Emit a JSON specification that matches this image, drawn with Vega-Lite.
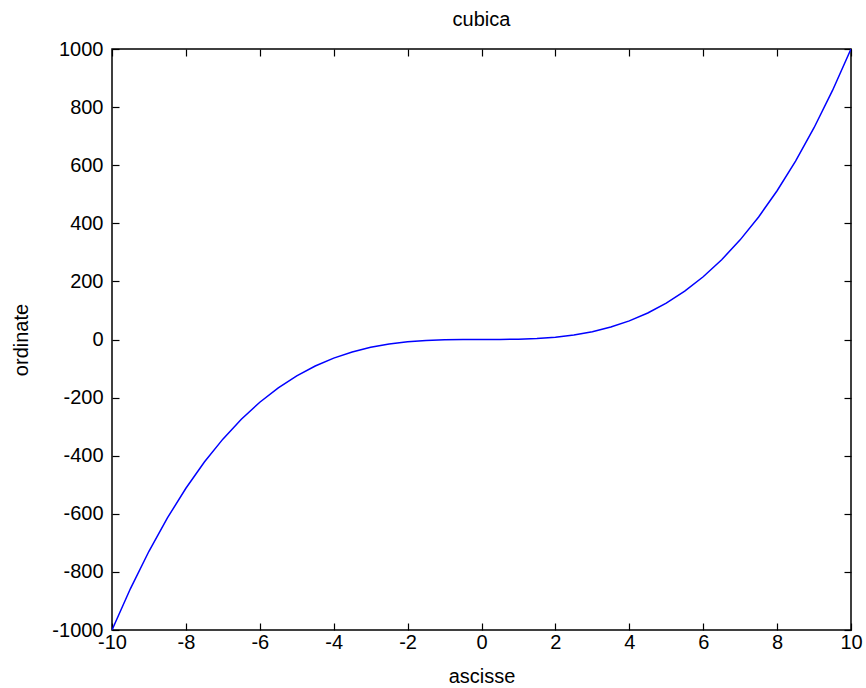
{
  "$schema": "https://vega.github.io/schema/vega-lite/v6.json",
  "width": 739,
  "height": 581,
  "autosize": "none",
  "padding": {"left": 112, "top": 49, "right": 15, "bottom": 58},
  "background": "white",
  "config": {
    "font": "Liberation Sans",
    "view": {"stroke": "black", "strokeWidth": 1.5},
    "axis": {"grid": false, "domain": false, "tickColor": "black", "tickSize": -7, "tickWidth": 1.2, "labelColor": "black", "labelFont": "Liberation Sans", "labelFontSize": 20, "titleFont": "Liberation Sans", "titleFontSize": 20, "titleFontWeight": "normal", "titleColor": "black", "labelFlush": false, "labelOverlap": false, "labelBound": false, "labelExpr": "'' + datum.value"}
  },
  "title": {"text": "cubica", "fontSize": 20, "fontWeight": "normal", "font": "Liberation Sans", "color": "black", "offset": 9},
  "data": {"values": [
    {"x": -10, "y": -1000}, {"x": -9.5, "y": -857.375}, {"x": -9, "y": -729}, {"x": -8.5, "y": -614.125},
    {"x": -8, "y": -512}, {"x": -7.5, "y": -421.875}, {"x": -7, "y": -343}, {"x": -6.5, "y": -274.625},
    {"x": -6, "y": -216}, {"x": -5.5, "y": -166.375}, {"x": -5, "y": -125}, {"x": -4.5, "y": -91.125},
    {"x": -4, "y": -64}, {"x": -3.5, "y": -42.875}, {"x": -3, "y": -27}, {"x": -2.5, "y": -15.625},
    {"x": -2, "y": -8}, {"x": -1.5, "y": -3.375}, {"x": -1, "y": -1}, {"x": -0.5, "y": -0.125},
    {"x": 0, "y": 0}, {"x": 0.5, "y": 0.125}, {"x": 1, "y": 1}, {"x": 1.5, "y": 3.375},
    {"x": 2, "y": 8}, {"x": 2.5, "y": 15.625}, {"x": 3, "y": 27}, {"x": 3.5, "y": 42.875},
    {"x": 4, "y": 64}, {"x": 4.5, "y": 91.125}, {"x": 5, "y": 125}, {"x": 5.5, "y": 166.375},
    {"x": 6, "y": 216}, {"x": 6.5, "y": 274.625}, {"x": 7, "y": 343}, {"x": 7.5, "y": 421.875},
    {"x": 8, "y": 512}, {"x": 8.5, "y": 614.125}, {"x": 9, "y": 729}, {"x": 9.5, "y": 857.375},
    {"x": 10, "y": 1000}
  ]},
  "layer": [
    {
      "mark": {"type": "line", "color": "#0000ff", "strokeWidth": 1.5, "clip": true},
      "encoding": {
        "x": {"field": "x", "type": "quantitative", "scale": {"domain": [-10, 10], "nice": false},
              "axis": {"orient": "bottom", "title": "ascisse", "values": [-10, -8, -6, -4, -2, 0, 2, 4, 6, 8, 10], "labelPadding": 9, "titlePadding": 14}},
        "y": {"field": "y", "type": "quantitative", "scale": {"domain": [-1000, 1000], "nice": false},
              "axis": {"orient": "left", "title": "ordinate", "values": [-1000, -800, -600, -400, -200, 0, 200, 400, 600, 800, 1000], "labelPadding": 16, "titlePadding": 20}}
      }
    },
    {
      "mark": {"type": "line", "opacity": 0},
      "encoding": {
        "x": {"field": "x", "type": "quantitative", "scale": {"domain": [-10, 10], "nice": false},
              "axis": {"orient": "top", "title": null, "labels": false, "values": [-10, -8, -6, -4, -2, 0, 2, 4, 6, 8, 10]}},
        "y": {"field": "y", "type": "quantitative", "scale": {"domain": [-1000, 1000], "nice": false},
              "axis": {"orient": "right", "title": null, "labels": false, "values": [-1000, -800, -600, -400, -200, 0, 200, 400, 600, 800, 1000]}}
      }
    }
  ],
  "resolve": {"axis": {"x": "independent", "y": "independent"}}
}
